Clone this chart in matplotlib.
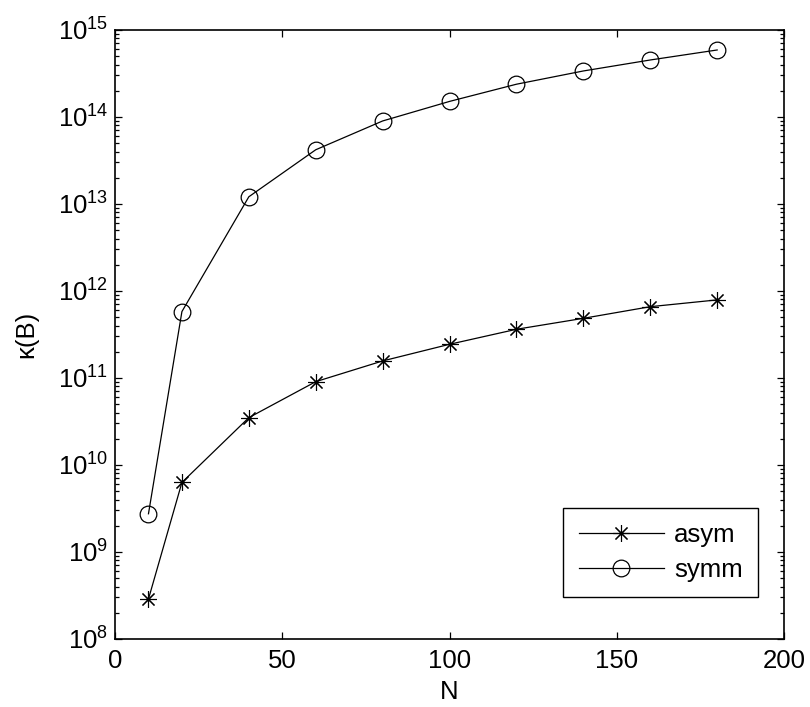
import matplotlib
matplotlib.use("Agg")
import matplotlib.pyplot as plt
from matplotlib.ticker import LogLocator, NullFormatter

plt.rcParams["font.family"] = ["Liberation Sans", "DejaVu Sans"]
plt.rcParams["mathtext.fontset"] = "custom"
plt.rcParams["mathtext.rm"] = "Liberation Sans"
plt.rcParams["mathtext.default"] = "regular"

N = [10, 20, 40, 60, 80, 100, 120, 140, 160, 180]
asym = [2.88e8, 6.3e9, 3.5e10, 9.07e10, 1.57e11, 2.44e11, 3.63e11, 4.85e11, 6.6e11, 7.9e11]
symm = [2.75e9, 5.8e11, 1.21e13, 4.2e13, 9.0e13, 1.51e14, 2.38e14, 3.38e14, 4.52e14, 5.89e14]
yexp = list(range(8, 16))

fig = plt.figure(figsize=(8.1, 7.07), dpi=100)
ax = fig.add_axes([0.142, 0.0962, 0.826, 0.8614])

ax.semilogy(N, asym, color="black", lw=0.9, marker=(8, 2, 0), ms=12,
            mew=0.8, label="asym")
ax.semilogy(N, symm, color="black", lw=0.9, marker="o", ms=12,
            mfc="none", mew=0.9, label="symm")

ax.set_xlim(0, 200)
ax.set_ylim(1e8, 1e15)
ax.set_xticks([0, 50, 100, 150, 200])
ax.set_yticks([10.0 ** k for k in yexp],
              [f"$10^{{{k}}}$" for k in yexp])
ax.yaxis.set_minor_locator(LogLocator(base=10, subs=range(2, 10), numticks=100))
ax.yaxis.set_minor_formatter(NullFormatter())

fs = 18.5
ax.tick_params(which="both", direction="in", top=True, right=True,
               labelsize=fs, width=0.9)
ax.tick_params(which="major", length=5)
ax.tick_params(which="minor", length=3)
ax.tick_params(axis="x", pad=7)
ax.tick_params(axis="y", pad=5)
for s in ax.spines.values():
    s.set_linewidth(1.2)

ax.set_xlabel("N", fontsize=fs, labelpad=5)
ax.set_ylabel("κ(B)", fontsize=fs, labelpad=14)

leg = ax.legend(loc="lower right", bbox_to_anchor=(0.961, 0.069),
                fontsize=fs, handlelength=3.3, labelspacing=0.4,
                fancybox=False, edgecolor="black", framealpha=1,
                borderaxespad=0, handletextpad=0.4, borderpad=0.6)
leg.get_frame().set_linewidth(1.0)

fig.savefig("out.png", dpi=100)
